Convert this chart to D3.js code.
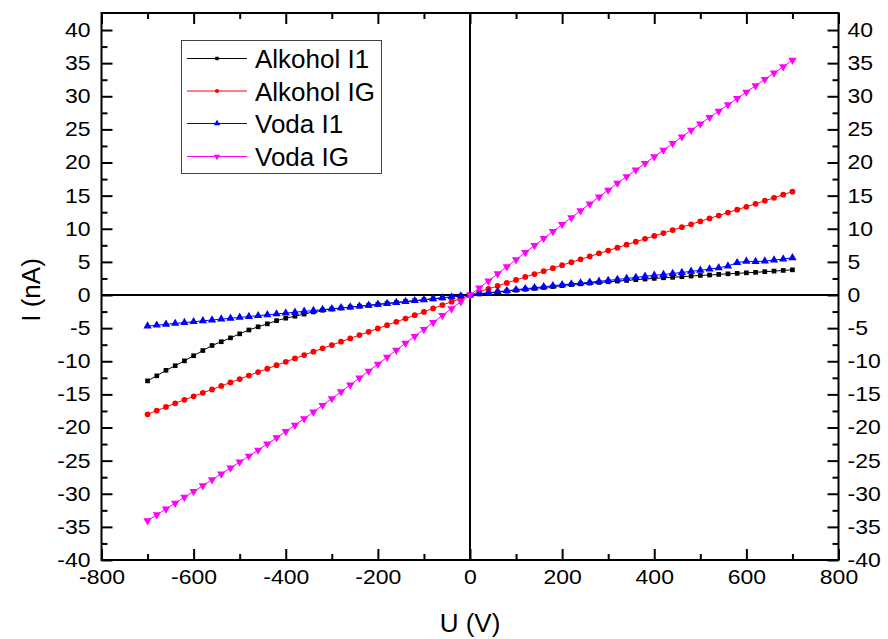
<!DOCTYPE html>
<html>
<head>
<meta charset="utf-8">
<script src="https://cdn.jsdelivr.net/npm/d3@7"></script>
<style>
  html, body { margin: 0; padding: 0; background: #fff; }
  svg { display: block; font-family: "Liberation Sans", Arial, sans-serif; }
</style>
</head>
<body>
<svg id="chart" width="888" height="639"></svg>
<script>
// Applied voltage U (V)
const voltage = [
  -700, -680, -660, -640, -620, -600, -580, -560, -540, -520,
  -500, -480, -460, -440, -420, -400, -380, -360, -340, -320,
  -300, -280, -260, -240, -220, -200, -180, -160, -140, -120,
  -100, -80, -60, -40, -20, 0, 20, 40, 60, 80,
  100, 120, 140, 160, 180, 200, 220, 240, 260, 280,
  300, 320, 340, 360, 380, 400, 420, 440, 460, 480,
  500, 520, 540, 560, 580, 600, 620, 640, 660, 680, 700
];

// Measured current I (nA) for each sample
const alkoholI1 = [
  -12.96, -12.2, -11.37, -10.67, -9.94, -9.16, -8.38, -7.62, -7.05, -6.47,
  -5.86, -5.28, -4.8, -4.35, -3.87, -3.5, -3.2, -2.88, -2.55, -2.3,
  -2.12, -1.97, -1.83, -1.69, -1.55, -1.41, -1.27, -1.13, -0.99, -0.85,
  -0.71, -0.57, -0.43, -0.29, -0.14, 0, 0.15, 0.3, 0.44, 0.58,
  0.72, 0.86, 1.0, 1.13, 1.28, 1.42, 1.58, 1.69, 1.8, 1.9,
  2.0, 2.1, 2.2, 2.31, 2.41, 2.51, 2.6, 2.67, 2.76, 2.86,
  2.96, 3.02, 3.11, 3.2, 3.27, 3.35, 3.42, 3.52, 3.61, 3.71, 3.8
];
const alkoholIG = [
  -18.0, -17.45, -16.9, -16.35, -15.82, -15.3, -14.77, -14.25, -13.73, -13.2,
  -12.68, -12.16, -11.64, -11.12, -10.6, -10.08, -9.57, -9.06, -8.55, -8.05,
  -7.55, -7.05, -6.55, -6.05, -5.55, -5.05, -4.55, -4.05, -3.55, -3.05,
  -2.55, -2.03, -1.52, -1.01, -0.5, 0, 0.46, 0.92, 1.37, 1.82,
  2.27, 2.72, 3.16, 3.6, 4.05, 4.5, 4.95, 5.39, 5.83, 6.27,
  6.71, 7.15, 7.6, 8.04, 8.48, 8.92, 9.36, 9.8, 10.24, 10.68,
  11.12, 11.56, 12.0, 12.44, 12.88, 13.32, 13.77, 14.23, 14.68, 15.14, 15.6
];
const vodaI1 = [
  -4.7, -4.56, -4.42, -4.29, -4.16, -4.03, -3.9, -3.77, -3.64, -3.51,
  -3.38, -3.25, -3.12, -2.99, -2.86, -2.73, -2.6, -2.47, -2.34, -2.21,
  -2.08, -1.95, -1.82, -1.69, -1.56, -1.42, -1.28, -1.14, -1.0, -0.86,
  -0.72, -0.58, -0.43, -0.29, -0.14, 0, 0.2, 0.35, 0.5, 0.65,
  0.8, 0.95, 1.1, 1.25, 1.4, 1.55, 1.67, 1.8, 1.93, 2.07,
  2.2, 2.35, 2.5, 2.65, 2.82, 2.97, 3.1, 3.25, 3.4, 3.57,
  3.73, 3.92, 4.1, 4.38, 4.88, 5.1, 5.05, 5.12, 5.27, 5.42, 5.62
];
const vodaIG = [
  -34.05, -33.17, -32.29, -31.41, -30.53, -29.65, -28.77, -27.89, -27.0, -26.11,
  -25.21, -24.31, -23.4, -22.48, -21.55, -20.6, -19.64, -18.66, -17.66, -16.65,
  -15.63, -14.6, -13.56, -12.52, -11.48, -10.43, -9.38, -8.33, -7.28, -6.23,
  -5.18, -4.13, -3.09, -2.05, -1.02, 0, 1.07, 2.14, 3.21, 4.28,
  5.35, 6.42, 7.49, 8.56, 9.6, 10.64, 11.68, 12.72, 13.76, 14.8,
  15.84, 16.88, 17.88, 18.88, 19.88, 20.88, 21.88, 22.88, 23.88, 24.88,
  25.84, 26.8, 27.76, 28.72, 29.68, 30.64, 31.6, 32.56, 33.52, 34.48, 35.44
];

const seriesNames = ["Alkohol I1", "Alkohol IG", "Voda I1", "Voda IG"];
const seriesValues = [alkoholI1, alkoholIG, vodaI1, vodaIG];

// Axis tick values
const xMajorTicks = [-800, -600, -400, -200, 0, 200, 400, 600, 800];
const xMinorTicks = [-700, -500, -300, -100, 100, 300, 500, 700];
const yMajorTicks = [-40, -35, -30, -25, -20, -15, -10, -5, 0, 5, 10, 15, 20, 25, 30, 35, 40];
const yMinorTicks = [-37.5, -32.5, -27.5, -22.5, -17.5, -12.5, -7.5, -2.5, 2.5, 7.5, 12.5, 17.5, 22.5, 27.5, 32.5, 37.5];

const colors = ["#000000", "#ff0000", "#0000ff", "#ff00ff"];
const symbols = [d3.symbolSquare, d3.symbolCircle, d3.symbolTriangle, d3.symbolTriangle];
const symbolRotate = [0, 0, 0, 180];

const svg = d3.select("#chart");
const plotLeft = 101.5, plotRight = 838.5, plotTop = 13, plotBottom = 560;

const x = d3.scaleLinear().domain([-800, 800]).range([plotLeft, plotRight]);
const y = d3.scaleLinear().domain([-40, 42.57]).range([plotBottom, plotTop]);

const tickFont = 20, tickStretch = 1.15;
const fmt = d => String(d);

function styleLabels(g) {
  g.selectAll(".tick text")
    .attr("font-size", tickFont)
    .attr("fill", "#000")
    .attr("font-family", "Liberation Sans, Arial, sans-serif")
    .attr("transform", function () {
      const tx = +this.getAttribute("x") || 0;
      return `translate(${tx},0) scale(${tickStretch},1) translate(${-tx},0)`;
    });
  g.select(".domain").remove();
  g.selectAll(".tick line").attr("stroke", "#000").attr("stroke-width", 2);
}

// Minor ticks (no labels) on all four sides
const minorLen = 6, majorLen = 11;
svg.append("g").attr("transform", `translate(0,${plotBottom})`)
  .call(d3.axisBottom(x).tickValues(xMinorTicks).tickSizeInner(-minorLen).tickSizeOuter(0).tickFormat(""))
  .call(styleLabels);
svg.append("g").attr("transform", `translate(0,${plotTop})`)
  .call(d3.axisTop(x).tickValues(xMinorTicks).tickSizeInner(-minorLen).tickSizeOuter(0).tickFormat(""))
  .call(styleLabels);
svg.append("g").attr("transform", `translate(${plotLeft},0)`)
  .call(d3.axisLeft(y).tickValues(yMinorTicks).tickSizeInner(-minorLen).tickSizeOuter(0).tickFormat(""))
  .call(styleLabels);
svg.append("g").attr("transform", `translate(${plotRight},0)`)
  .call(d3.axisRight(y).tickValues(yMinorTicks).tickSizeInner(-minorLen).tickSizeOuter(0).tickFormat(""))
  .call(styleLabels);

// Major ticks
svg.append("g").attr("transform", `translate(0,${plotBottom})`)
  .call(d3.axisBottom(x).tickValues(xMajorTicks).tickSizeInner(-majorLen).tickSizeOuter(0).tickPadding(10).tickFormat(fmt))
  .call(styleLabels);
svg.append("g").attr("transform", `translate(0,${plotTop})`)
  .call(d3.axisTop(x).tickValues(xMajorTicks).tickSizeInner(-majorLen).tickSizeOuter(0).tickFormat(""))
  .call(styleLabels);
svg.append("g").attr("transform", `translate(${plotLeft},0)`)
  .call(d3.axisLeft(y).tickValues(yMajorTicks).tickSizeInner(-majorLen).tickSizeOuter(0).tickPadding(11).tickFormat(fmt))
  .call(styleLabels);
svg.append("g").attr("transform", `translate(${plotRight},0)`)
  .call(d3.axisRight(y).tickValues(yMajorTicks).tickSizeInner(-majorLen).tickSizeOuter(0).tickPadding(9).tickFormat(fmt))
  .call(styleLabels);

// Zero lines
svg.append("line").attr("x1", plotLeft).attr("x2", plotRight).attr("y1", y(0)).attr("y2", y(0))
  .attr("stroke", "#000").attr("stroke-width", 2);
svg.append("line").attr("x1", x(0)).attr("x2", x(0)).attr("y1", plotTop).attr("y2", plotBottom)
  .attr("stroke", "#000").attr("stroke-width", 2);

// Series lines and markers
const line = d3.line().x((d, i) => x(voltage[i])).y(d => y(d));
const markerSize = [22, 26, 30, 30];
seriesValues.forEach((vals, s) => {
  const g = svg.append("g");
  g.append("path").datum(vals).attr("d", line)
    .attr("fill", "none").attr("stroke", colors[s]).attr("stroke-width", 1);
  g.selectAll("path.m").data(vals).join("path").attr("class", "m")
    .attr("d", d3.symbol().type(symbols[s]).size(markerSize[s]))
    .attr("transform", (d, i) => `translate(${x(voltage[i])},${y(d)}) rotate(${symbolRotate[s]})`)
    .attr("fill", colors[s]);
});

// Plot frame
svg.append("rect").attr("x", plotLeft).attr("y", plotTop).attr("width", plotRight - plotLeft).attr("height", plotBottom - plotTop)
  .attr("fill", "none").attr("stroke", "#000").attr("stroke-width", 2);

// Legend
const legend = svg.append("g");
legend.append("rect").attr("x", 181.5).attr("y", 40.5).attr("width", 200).attr("height", 133)
  .attr("fill", "#fff").attr("stroke", "#444").attr("stroke-width", 1);
const rowY = [58.5, 91, 123.5, 156.5];
const legendMarker = [12, 14, 18, 18];
seriesNames.forEach((name, s) => {
  legend.append("line").attr("x1", 187).attr("x2", 247).attr("y1", rowY[s]).attr("y2", rowY[s])
    .attr("stroke", colors[s]).attr("stroke-width", 1);
  legend.append("path").attr("d", d3.symbol().type(symbols[s]).size(legendMarker[s]))
    .attr("transform", `translate(217,${rowY[s]}) rotate(${symbolRotate[s]})`)
    .attr("fill", colors[s]);
  legend.append("text").attr("x", 255).attr("y", rowY[s] + 9.5)
    .attr("font-size", 26).attr("fill", "#000").text(name);
});

// Axis titles
svg.append("text").attr("x", x(0)).attr("y", 632).attr("text-anchor", "middle")
  .attr("font-size", 26).attr("fill", "#000").text("U (V)");
svg.append("text").attr("transform", `translate(40,290) rotate(-90)`).attr("text-anchor", "middle")
  .attr("font-size", 26).attr("fill", "#000").text("I (nA)");
</script>
</body>
</html>
